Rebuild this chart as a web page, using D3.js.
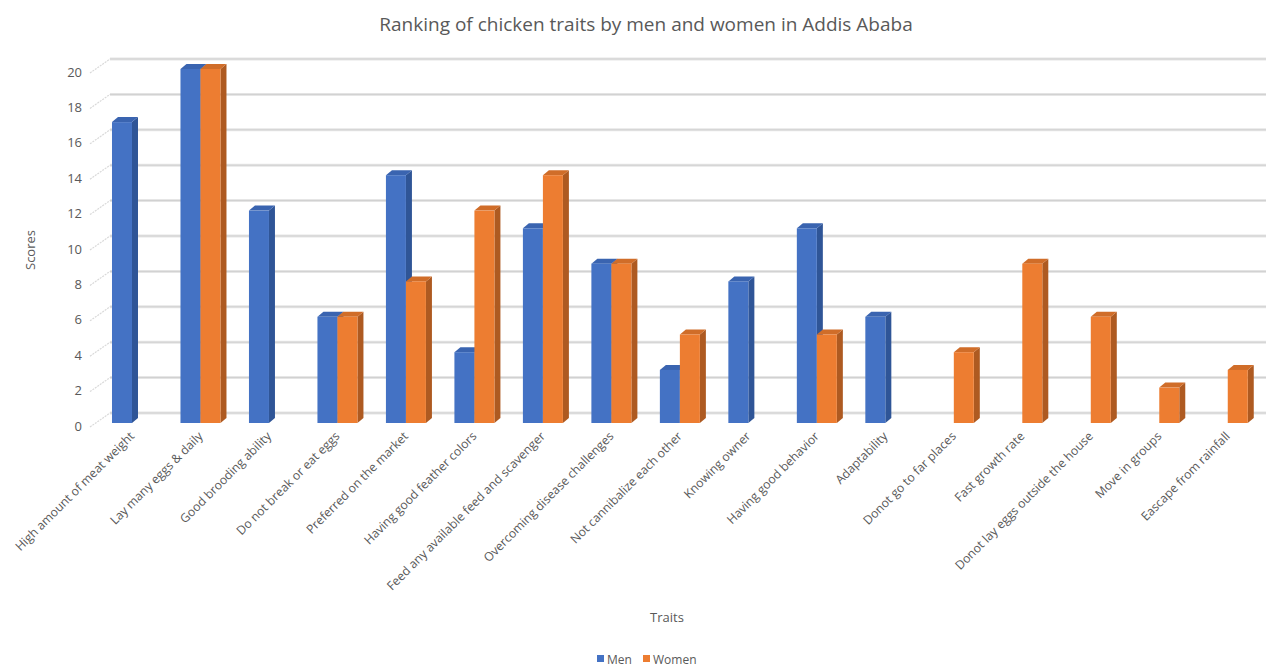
<!DOCTYPE html>
<html>
<head>
<meta charset="utf-8">
<script src="https://cdn.jsdelivr.net/npm/d3@7"></script>
<style>
  html, body { margin: 0; padding: 0; background: #fff; }
  svg { display: block; font-family: "Open Sans", "Liberation Sans", sans-serif; }
</style>
</head>
<body>
<svg id="chart" width="1266" height="668"></svg>
<script>
// Trait categories and scores per group
const categories = [
  "High amount of meat weight",
  "Lay many eggs & daily",
  "Good brooding ability",
  "Do not break or eat eggs",
  "Preferred on the market",
  "Having good feather colors",
  "Feed any available feed and scavenger",
  "Overcoming disease challenges",
  "Not cannibalize each other",
  "Knowing owner",
  "Having good behavior",
  "Adaptability",
  "Donot go to far places",
  "Fast growth rate",
  "Donot lay eggs outside the house",
  "Move in groups",
  "Eascape from rainfall"
];
const seriesNames = ["Men", "Women"];
const menScores   = [17, 20, 12, 6, 14, 4, 11, 9, 3, 8, 11, 6, 0, 0, 0, 0, 0];
const womenScores = [0, 20, 0, 6, 8, 12, 14, 9, 5, 0, 5, 0, 4, 9, 6, 2, 3];
const yTicks = [0, 2, 4, 6, 8, 10, 12, 14, 16, 18, 20];

const colors = {
  Men:   { front: "#4472c4", side: "#2f5597", top: "#3a64b0" },
  Women: { front: "#ed7d31", side: "#ae5a21", top: "#d06d29" }
};

const svg = d3.select("#chart");
const textColor = "#595959";

// Front plane and back wall scales
const y = d3.scaleLinear().domain([0, 20]).range([423, 69]);
const wallDx = 20, wallDy = -10;
const yWall = v => y(v) + wallDy;
const barDx = 6, barDy = -5;

const x = d3.scalePoint().domain(categories).range([97.75, 1262]).padding(0.5);
const xs = d3.scaleBand().domain(seriesNames).range([-20, 20]);

// Back wall gridlines with the short floor-side diagonals
const grid = svg.append("g");
yTicks.forEach(t => {
  grid.append("line")
    .attr("x1", 90).attr("y1", yWall(t) + 14)
    .attr("x2", 90 + wallDx).attr("y2", yWall(t))
    .attr("stroke", "#d9d9d9").attr("stroke-width", 1.2)
    .attr("stroke-dasharray", "2,1");
  grid.append("line")
    .attr("x1", 90 + wallDx).attr("y1", yWall(t))
    .attr("x2", 1266).attr("y2", yWall(t))
    .attr("stroke", "#e6e6e6").attr("stroke-width", 3);
  grid.append("line")
    .attr("x1", 90 + wallDx).attr("y1", yWall(t))
    .attr("x2", 1266).attr("y2", yWall(t))
    .attr("stroke", "#cfcfcf").attr("stroke-width", 1);
});

// Y tick labels
const yAxis = d3.axisLeft(y).tickValues(yTicks).tickSize(0).tickPadding(0);
const yg = svg.append("g").attr("transform", "translate(82,3)").call(yAxis);
yg.select(".domain").remove();
yg.selectAll("text").attr("fill", textColor).style("font-size", "13px")
  .style("font-family", "\"Open Sans\", sans-serif");

// 3D columns
const bars = [];
categories.forEach((c, i) => {
  bars.push({ cat: c, s: "Men", v: menScores[i] });
  bars.push({ cat: c, s: "Women", v: womenScores[i] });
});

const barG = svg.append("g");
bars.filter(d => d.v > 0).forEach(d => {
  const x0 = x(d.cat) + xs(d.s);
  const x1 = x0 + xs.bandwidth();
  const yt = y(d.v), yb = y(0);
  const col = colors[d.s];
  const g = barG.append("g");
  // right side face
  g.append("path")
    .attr("d", `M${x1},${yb} L${x1 + barDx},${yb + barDy} L${x1 + barDx},${yt + barDy} L${x1},${yt} Z`)
    .attr("fill", col.side);
  // top face
  g.append("path")
    .attr("d", `M${x0},${yt} L${x0 + barDx},${yt + barDy} L${x1 + barDx},${yt + barDy} L${x1},${yt} Z`)
    .attr("fill", col.top);
  // front face
  g.append("rect")
    .attr("x", x0).attr("y", yt)
    .attr("width", xs.bandwidth()).attr("height", yb - yt)
    .attr("fill", col.front);
});

// Category labels, rotated
const xg = svg.append("g");
categories.forEach(c => {
  const px = x(c) + 3, py = 437;
  xg.append("text")
    .attr("transform", `translate(${px},${py}) rotate(-45)`)
    .attr("text-anchor", "end")
    .attr("fill", textColor)
    .style("font-size", "12.2px")
    .text(c);
});

// Title and axis titles
svg.append("text")
  .attr("x", 646).attr("y", 31)
  .attr("text-anchor", "middle")
  .attr("fill", textColor)
  .style("font-size", "19px")
  .text("Ranking of chicken traits by men and women in Addis Ababa");

svg.append("text")
  .attr("transform", "translate(35,250) rotate(-90)")
  .attr("text-anchor", "middle")
  .attr("fill", textColor)
  .style("font-size", "13px")
  .text("Scores");

svg.append("text")
  .attr("x", 667).attr("y", 622)
  .attr("text-anchor", "middle")
  .attr("fill", textColor)
  .style("font-size", "13px")
  .text("Traits");

// Legend
const legend = svg.append("g");
const legendItems = [{ s: "Men", x: 597 }, { s: "Women", x: 643 }];
legendItems.forEach(it => {
  legend.append("rect")
    .attr("x", it.x).attr("y", 655)
    .attr("width", 7).attr("height", 7)
    .attr("fill", colors[it.s].front);
  legend.append("text")
    .attr("x", it.x + 10).attr("y", 664)
    .attr("fill", textColor)
    .style("font-size", "12px")
    .text(it.s);
});
</script>
</body>
</html>
